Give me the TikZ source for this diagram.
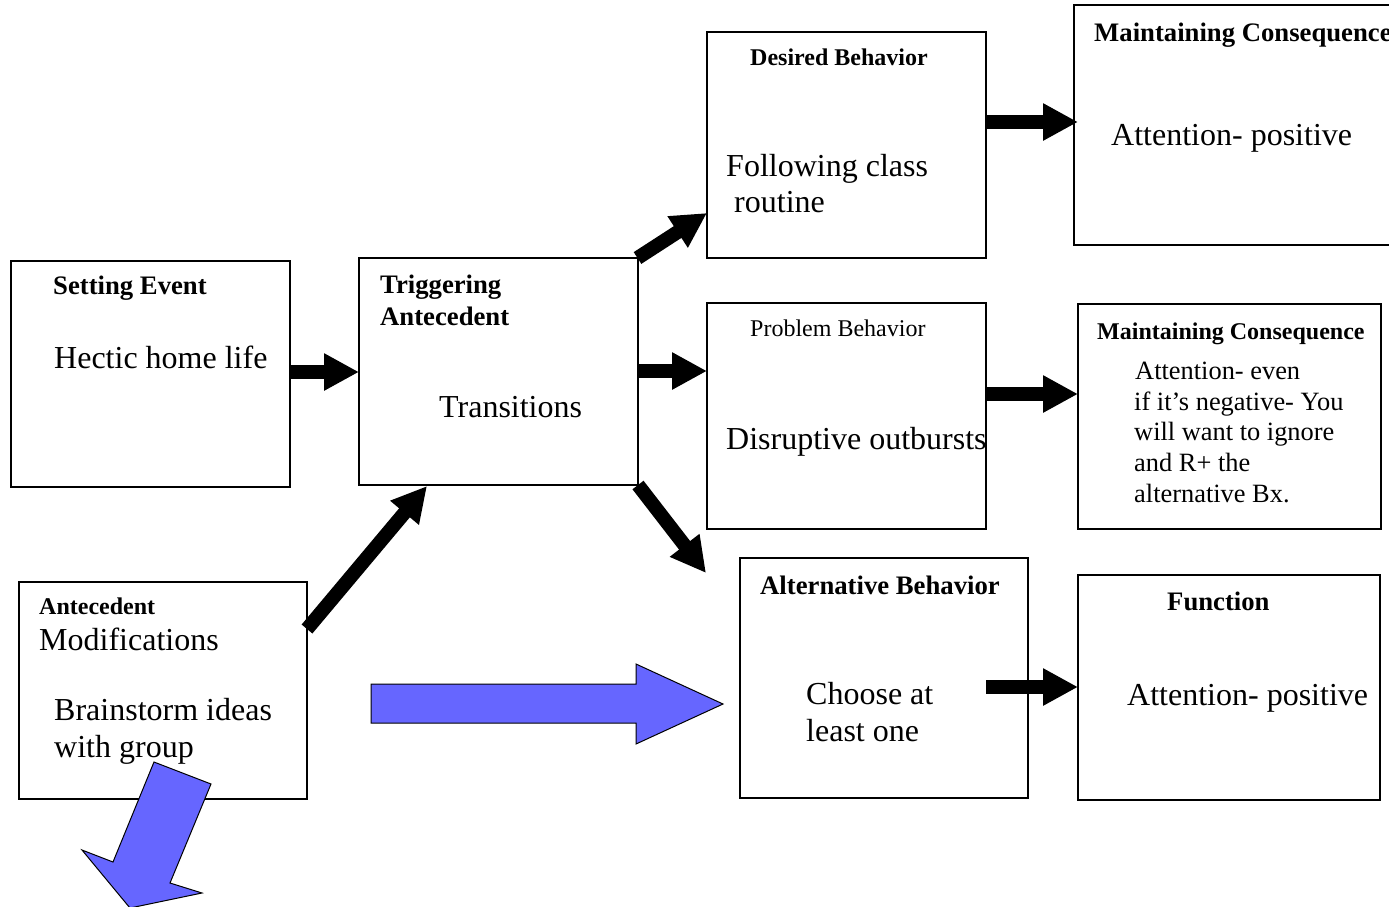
\documentclass[tikz,border=0pt]{standalone}
\usepackage{fontspec}
\setmainfont{Liberation Serif}
\usetikzlibrary{arrows.meta}
\definecolor{blueA}{HTML}{6666FF}
\begin{document}
\begin{tikzpicture}[x=1pt,y=-1pt,
  box/.style={draw, line width=2pt, inner sep=0pt},
  txt/.style={anchor=base west, inner sep=0pt},
  big/.style={txt, font=\fontsize{32}{37}\selectfont},
  hd/.style={txt, font=\fontsize{26.7}{30}\selectfont\bfseries},
  hds/.style={txt, font=\fontsize{24}{28}\selectfont\bfseries},
  sm/.style={txt, font=\fontsize{24}{28}\selectfont},
  mid/.style={txt, font=\fontsize{26.4}{30.7}\selectfont},
  blk/.style={line width=14pt, -{Triangle[length=35pt,width=35pt]}},
  bluearrow/.style={fill=blueA, draw=black, line width=1pt, line join=miter}]
\useasboundingbox (0,0) rectangle (1389,906);
\fill[white] (0,0) rectangle (1389,906);

% boxes
\node[box, minimum width=279pt, minimum height=226pt] (se) at (150.5,374) {};
\node[box, minimum width=279pt, minimum height=227pt] (ta) at (498.5,371.5) {};
\node[box, minimum width=279pt, minimum height=226pt] (db) at (846.5,145) {};
\node[box, minimum width=321pt, minimum height=240pt] (mc1) at (1234.5,125) {};
\node[box, minimum width=279pt, minimum height=226pt] (pb) at (846.5,416) {};
\node[box, minimum width=303pt, minimum height=225pt] (mc2) at (1229.5,416.5) {};
\node[box, minimum width=288pt, minimum height=240pt] (ab) at (884,678) {};
\node[box, minimum width=302pt, minimum height=225pt] (fn) at (1229,687.5) {};
\node[box, minimum width=288pt, minimum height=217pt] (am) at (163,690.5) {};

% texts
\node[hd] (t1) at (53,294) {Setting Event};
\node[big] (t2) at (54,368) {Hectic home life};
\node[hd] (t3) at (380,293) {Triggering};
\node[hd] (t4) at (380,325) {Antecedent};
\node[big] (t5) at (439,417) {Transitions};
\node[hds] (t6) at (750,65) {Desired Behavior};
\node[big] (t7) at (726,176) {Following class};
\node[big] (t8) at (734,212) {routine};
\node[hd] (t9) at (1094,41) {Maintaining Consequence};
\node[big] (t10) at (1111,145) {Attention- positive};
\node[sm] (t11) at (750,336) {Problem Behavior};
\node[big] (t12) at (726,449) {Disruptive outbursts};
\node[hds] (t13) at (1097,339) {Maintaining Consequence};
\node[mid] (t14) at (1135,379) {Attention- even};
\node[mid] (t15) at (1134,410) {if it’s negative- You};
\node[mid] (t16) at (1134,440) {will want to ignore};
\node[mid] (t17) at (1134,471) {and R+ the};
\node[mid] (t18) at (1134,502) {alternative Bx.};
\node[hd] (t19) at (760,594) {Alternative Behavior};
\node[big] (t20) at (806,704) {Choose at};
\node[big] (t21) at (806,741) {least one};
\node[hd] (t22) at (1167,610) {Function};
\node[big] (t23) at (1127,705) {Attention- positive};
\node[hds] (t24) at (39,614) {Antecedent};
\node[big] (t25) at (39,650) {Modifications};
\node[big] (t26) at (54,720) {Brainstorm ideas};
\node[big] (t27) at (54,757) {with group};

% black connector end points
\coordinate (a1s) at (290,372);   \coordinate (a1e) at (359,372);
\coordinate (a2s) at (638,371);   \coordinate (a2e) at (707,371);
\coordinate (a3s) at (637.5,258); \coordinate (a3e) at (707,213);
\coordinate (a4s) at (638,485);   \coordinate (a4e) at (706,573);
\coordinate (a5s) at (307,629);   \coordinate (a5e) at (427,486);
\coordinate (a6s) at (986,122);   \coordinate (a6e) at (1078,122);
\coordinate (a7s) at (986,394);   \coordinate (a7e) at (1078,394);
\coordinate (a8s) at (986,687);   \coordinate (a8e) at (1078,687);

\draw[blk] (a1s) -- (a1e);
\draw[blk] (a2s) -- (a2e);
\draw[blk] (a3s) -- (a3e);
\draw[blk] (a4s) -- (a4e);
\draw[blk] (a5s) -- (a5e);
\draw[blk] (a6s) -- (a6e);
\draw[blk] (a7s) -- (a7e);
\draw[blk] (a8s) -- (a8e);

% blue block arrows
\draw[bluearrow] (371,684) -- (636,684) -- (636,664) -- (723,704) -- (636,744) -- (636,723) -- (371,723) -- cycle;
\draw[bluearrow] (154,762) -- (211,784) -- (170,883) -- (202,893) -- (130,908) -- (82,850) -- (113,862) -- cycle;
\end{tikzpicture}
\end{document}
